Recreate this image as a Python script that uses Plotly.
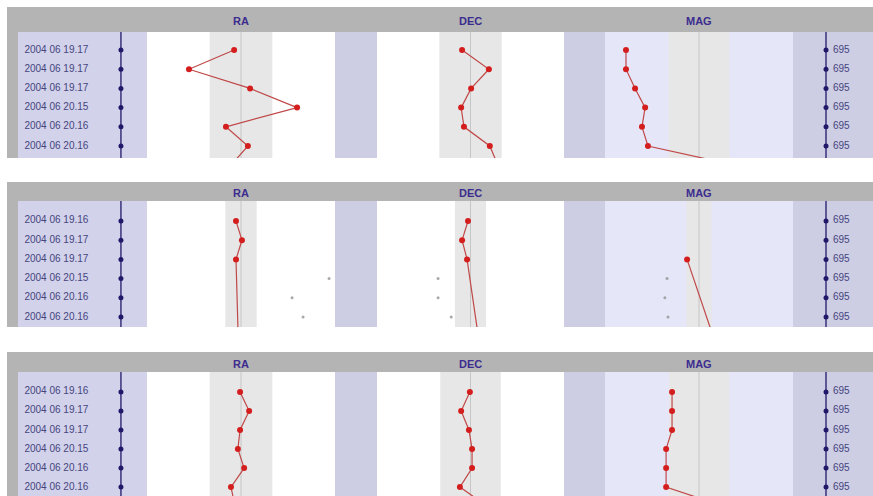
import plotly.graph_objects as go

# ---------------- data ----------------
row_labels_p1 = ["2004 06 19.17", "2004 06 19.17", "2004 06 19.17", "2004 06 20.15", "2004 06 20.16", "2004 06 20.16"]
row_labels_p2 = ["2004 06 19.16", "2004 06 19.17", "2004 06 19.17", "2004 06 20.15", "2004 06 20.16", "2004 06 20.16"]
row_labels_p3 = ["2004 06 19.16", "2004 06 19.17", "2004 06 19.17", "2004 06 20.15", "2004 06 20.16", "2004 06 20.16"]
right_labels = ["695", "695", "695", "695", "695", "695"]
columns = ["RA", "DEC", "MAG"]

# residuals (7th value = next observation, partly visible below the panel)
ra_p1 = [-0.22, -1.66, 0.29, 1.79, -0.48, 0.22, -0.32]
dec_p1 = [-0.27, 0.59, 0.02, -0.30, -0.21, 0.62, 0.88]
mag_p1 = [-2.33, -2.33, -2.04, -1.72, -1.82, -1.63, 1.15]

ra_p2 = [-0.16, 0.03, -0.16, None, None, None, -0.09]
dec_p2 = [-0.08, -0.27, -0.11, None, None, None, 0.25]
mag_p2 = [None, None, -0.38, None, None, None, 0.45]
ra_p2_rejected = [None, None, None, 2.81, 1.63, 1.98, None]
dec_p2_rejected = [None, None, None, -1.04, -1.04, -0.62, None]
mag_p2_rejected = [None, None, None, -1.02, -1.09, -0.99, None]

ra_p3 = [-0.03, 0.26, -0.03, -0.10, 0.10, -0.32, -0.19]
dec_p3 = [-0.02, -0.30, -0.05, 0.05, 0.05, -0.34, 0.53]
mag_p3 = [-0.86, -0.86, -0.86, -1.05, -1.05, -1.05, 0.77]

ra_tol = [1.0, 0.5, 1.0]
dec_tol = [1.0, 0.5, 0.97]
mag_tol = [0.97, 0.4, 0.96]

panels_values = [
    dict(labels=row_labels_p1, ra=ra_p1, dec=dec_p1, mag=mag_p1, rej=None),
    dict(labels=row_labels_p2, ra=ra_p2, dec=dec_p2, mag=mag_p2,
         rej=[ra_p2_rejected, dec_p2_rejected, mag_p2_rejected]),
    dict(labels=row_labels_p3, ra=ra_p3, dec=dec_p3, mag=mag_p3, rej=None),
]
tols = [ra_tol, dec_tol, mag_tol]

# ---------------- layout geometry ----------------
W, H = 873, 496
def px(x):
    return x / W
def py(y):
    return 1 - y / H

panel_geo = [
    dict(head_top=7, body_top=32, body_bot=158, yr=[5.625, -0.94]),
    dict(head_top=182, body_top=201, body_bot=327, yr=[5.52, -1.04]),
    dict(head_top=352, body_top=372, body_bot=496, yr=[5.47, -1.05]),
]
col_dom = [(147, 335), (377, 564), (605, 793)]
label_dom = (18, 147)
right_dom = (793, 873)

HEAD_GRAY = "#B4B4B4"
LAV_DARK = "#CDCDE4"
LAV_LABEL = "#D2D2EA"
LAV_LIGHT = "#E6E6F9"
BAND = "#E7E7E7"
CENTER = "#C6C6C6"
NAVY = "#22186A"
TXT = "#45457E"
HEAD_TXT = "#3B2C8E"
RED = "#D41E1E"
RED_LINE = "#C04848"
FONT = "Arial, Liberation Sans, sans-serif"

fig = go.Figure()
layout = dict(width=W, height=H, margin=dict(l=0, r=0, t=0, b=0),
              paper_bgcolor="white", plot_bgcolor="rgba(0,0,0,0)",
              showlegend=False, shapes=[], annotations=[])

k = [0]
def new_axes(xdom, ydom, xr, yr):
    k[0] += 1
    n = k[0]
    sx = "" if n == 1 else str(n)
    layout["xaxis" + sx] = dict(domain=[px(xdom[0]), px(xdom[1])], range=xr, visible=False,
                                fixedrange=True, anchor="y" + sx)
    layout["yaxis" + sx] = dict(domain=ydom, range=yr, visible=False,
                                fixedrange=True, anchor="x" + sx)
    return "x" + sx, "y" + sx

def rect(x0, x1, y0, y1, color):
    layout["shapes"].append(dict(type="rect", xref="paper", yref="paper",
                                 x0=px(x0), x1=px(x1), y0=py(y1), y1=py(y0),
                                 fillcolor=color, line=dict(width=0), layer="below"))

rows = list(range(7))
for p, (geo, vals) in enumerate(zip(panel_geo, panels_values)):
    bt, bb = geo["body_top"], geo["body_bot"]
    ydom = [max(0.0, py(bb)), py(bt)]
    # backgrounds
    rect(7, W, geo["head_top"], bt, HEAD_GRAY)
    rect(7, label_dom[0], bt, bb, HEAD_GRAY)
    rect(label_dom[0], label_dom[1], bt, bb, LAV_LABEL)
    rect(col_dom[0][1], col_dom[1][0], bt, bb, LAV_DARK)
    rect(col_dom[1][1], col_dom[2][0], bt, bb, LAV_DARK)
    rect(col_dom[2][0], col_dom[2][1], bt, bb, LAV_LIGHT)
    rect(right_dom[0], right_dom[1], bt, bb, LAV_DARK)

    # left label axis
    xa, ya = new_axes(label_dom, ydom, [0, 1], geo["yr"])
    layout["shapes"].append(dict(type="line", xref=xa, yref=ya + " domain", x0=0.798, x1=0.798,
                                 y0=0, y1=1, line=dict(color=NAVY, width=1.3)))
    fig.add_trace(go.Scatter(x=[0.798] * 6, y=rows[:6], mode="markers", xaxis=xa, yaxis=ya,
                             marker=dict(size=5, color=NAVY), hoverinfo="skip"))
    fig.add_trace(go.Scatter(x=[0.05] * 6, y=rows[:6], mode="text", text=vals["labels"],
                             textposition="middle right", xaxis=xa, yaxis=ya,
                             textfont=dict(family=FONT, size=10, color=TXT), hoverinfo="skip"))

    # data columns
    for c, key in enumerate(["ra", "dec", "mag"]):
        xa, ya = new_axes(col_dom[c], ydom, [-3, 3], geo["yr"])
        t = tols[c][p]
        layout["shapes"].append(dict(type="rect", xref=xa, yref=ya + " domain", x0=-t, x1=t,
                                     y0=0, y1=1, fillcolor=BAND, line=dict(width=0), layer="below"))
        layout["shapes"].append(dict(type="line", xref=xa, yref=ya + " domain", x0=0, x1=0,
                                     y0=0, y1=1, line=dict(color=CENTER, width=1), layer="below"))
        if vals["rej"] is not None:
            fig.add_trace(go.Scatter(x=vals["rej"][c], y=rows, mode="markers", xaxis=xa, yaxis=ya,
                                     marker=dict(size=3, color="rgba(140,140,140,0.75)"),
                                     hoverinfo="skip"))
        fig.add_trace(go.Scatter(x=vals[key], y=rows, mode="lines+markers", xaxis=xa, yaxis=ya,
                                 connectgaps=True,
                                 line=dict(color=RED_LINE, width=1.2),
                                 marker=dict(size=6, color=RED), hoverinfo="skip"))
        layout["annotations"].append(dict(
            text="<b>%s</b>" % columns[c], xref="paper", yref="paper",
            x=px((col_dom[c][0] + col_dom[c][1]) / 2), y=py((geo["head_top"] + bt) / 2 + 1.5),
            xanchor="center", yanchor="middle",
            showarrow=False, font=dict(family=FONT, size=11, color=HEAD_TXT)))

    # right axis
    xa, ya = new_axes(right_dom, ydom, [0, 1], geo["yr"])
    layout["shapes"].append(dict(type="line", xref=xa, yref=ya + " domain", x0=0.4125, x1=0.4125,
                                 y0=0, y1=1, line=dict(color=NAVY, width=1.3)))
    fig.add_trace(go.Scatter(x=[0.4125] * 6, y=rows[:6], mode="markers", xaxis=xa, yaxis=ya,
                             marker=dict(size=5, color=NAVY), hoverinfo="skip"))
    fig.add_trace(go.Scatter(x=[0.5] * 6, y=rows[:6], mode="text", text=right_labels,
                             textposition="middle right", xaxis=xa, yaxis=ya,
                             textfont=dict(family=FONT, size=10, color=TXT), hoverinfo="skip"))

fig.update_layout(**layout)
fig.write_html("out.html", config={"displayModeBar": False},
               post_script="document.body.style.margin='0';document.body.style.overflow='hidden';")
